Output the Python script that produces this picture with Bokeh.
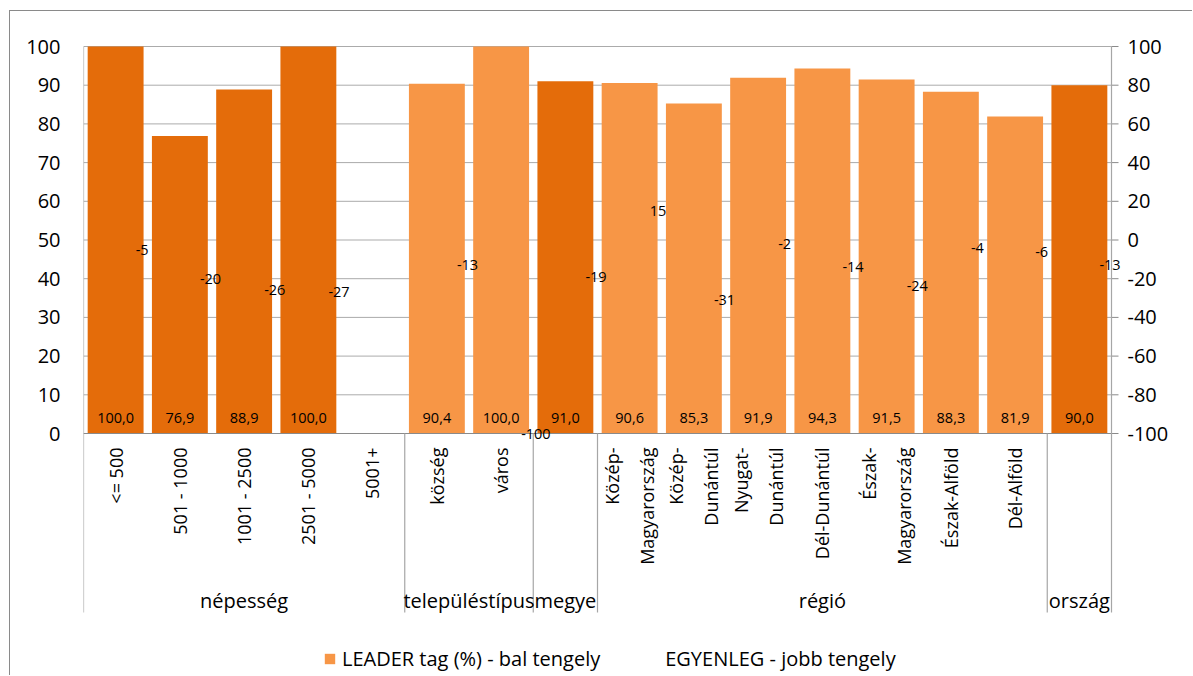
import numpy as np
from bokeh.plotting import figure
from bokeh.models import (Range1d, FixedTicker, ColumnDataSource,
                          Legend, LegendItem)
from bokeh.core.properties import value
from bokeh.embed import file_html
from bokeh.resources import INLINE

# ---------------- data ----------------
groups = ["népesség", "településtípus", "megye", "régió", "ország"]
group_sizes = [5, 2, 1, 7, 1]
categories = ["<= 500", "501 - 1000", "1001 - 2500", "2501 - 5000", "5001+",
              "község", "város",
              "",
              "Közép-\nMagyarország", "Közép-\nDunántúl", "Nyugat-\nDunántúl",
              "Dél-Dunántúl", "Észak-\nMagyarország", "Észak-Alföld", "Dél-Alföld",
              ""]
leader = [100.0, 76.9, 88.9, 100.0, np.nan,
          90.4, 100.0,
          91.0,
          90.6, 85.3, 91.9, 94.3, 91.5, 88.3, 81.9,
          90.0]
egyenleg = [-5, -20, -26, -27, np.nan,
            -13, -100,
            -19,
            15, -31, -2, -14, -24, -4, -6,
            -13]
left_ticks = list(range(0, 101, 10))
right_ticks = list(range(-100, 101, 20))

DARK = "#E46C0A"
LIGHT = "#F79646"
group_colors = {"népesség": DARK, "településtípus": LIGHT, "megye": DARK,
                "régió": LIGHT, "ország": DARK}

# ---------------- geometry (page px) ----------------
MARGIN_X, MARGIN_Y = 9, 10          # outer frame border position
PAGE_X0, PAGE_Y0 = MARGIN_X + 1, MARGIN_Y + 1   # canvas origin
FIG_W, FIG_H = 1193 - PAGE_X0, 676 - PAGE_Y0
PLOT_L, PLOT_R = 83, 1111           # category area
FRAME_R = 1193
FRAME_T, FRAME_B = 28, 676
TOP_PX, ZERO_PX = 46, 433
n = len(categories)
SLOT = (PLOT_R - PLOT_L) / n
PPU_L = (ZERO_PX - TOP_PX) / 100.0          # px per left unit
PPU_R = (ZERO_PX - TOP_PX) / 200.0          # px per right unit

def ly(px):
    return (ZERO_PX - px) / PPU_L

def ry(px):
    return -100 + (ZERO_PX - px) / PPU_R

xs = np.arange(n) + 0.5
grp_of = []
for g, s in zip(groups, group_sizes):
    grp_of += [g] * s
colors = [group_colors[g] for g in grp_of]

FONT = value("Open Sans")

p = figure(width=FIG_W, height=FIG_H, output_backend="svg", toolbar_location=None,
           x_range=Range1d(0, (FRAME_R - PLOT_L) / SLOT),
           y_range=Range1d(ly(FRAME_B), ly(FRAME_T)),
           min_border_left=PLOT_L - PAGE_X0, min_border_right=0,
           min_border_top=FRAME_T - PAGE_Y0, min_border_bottom=0,
           tools="")
p.extra_y_ranges = {"right": Range1d(ry(FRAME_B), ry(FRAME_T))}
p.outline_line_color = None
p.background_fill_color = "white"
p.border_fill_color = "white"
p.styles = {"margin-left": f"{MARGIN_X}px", "margin-top": f"{MARGIN_Y}px",
            "border-left": "1px solid #8a8a8a", "border-top": "1px solid #8a8a8a"}

p.xaxis.visible = False
p.xgrid.visible = False
p.ygrid.visible = False

# left axis
ya = p.yaxis[0]
ya.ticker = FixedTicker(ticks=left_ticks)
ya.axis_line_color = None
ya.major_tick_line_color = None
ya.minor_tick_line_color = None
ya.major_label_text_font = "Open Sans"
ya.major_label_text_font_size = "20px"
ya.major_label_text_color = "black"
ya.major_label_standoff = 17

# horizontal gridlines over the category area
p.segment(x0=[0] * len(left_ticks), y0=left_ticks, x1=[n] * len(left_ticks),
          y1=left_ticks, line_color="#ababab", line_width=1)

# right axis (ticks + labels drawn on the right scale)
p.segment(x0=[n] * len(right_ticks), y0=right_ticks,
          x1=[n + 7 / SLOT] * len(right_ticks), y1=right_ticks,
          y_range_name="right", line_color="#8a8a8a", line_width=1)
p.text(x=[n] * len(right_ticks), y=right_ticks, text=[str(t) for t in right_ticks],
       y_range_name="right", x_offset=16, text_align="left", text_baseline="middle",
       text_font=FONT, text_font_size="20px", text_color="black")

# bars
src = ColumnDataSource(dict(x=xs, top=leader, color=colors,
                            lab=[("" if np.isnan(v) else f"{v:.1f}".replace(".", ",")) for v in leader]))
bars = p.vbar(x="x", top="top", bottom=0, width=0.87, fill_color="color",
              line_color=None, source=src)

# category zero line
p.segment(x0=[0], y0=[0], x1=[n], y1=[0], line_color="#8a8a8a", line_width=1)

# outer vertical lines (axis lines) and group separators
bounds = np.cumsum([0] + group_sizes)
top_y = [100 if b in (0, n) else 0 for b in bounds]
p.segment(x0=bounds, y0=top_y, x1=bounds, y1=[ly(612)] * len(bounds),
          line_color="#a6a6a6", line_width=1.2)

# bar value labels
p.text(x="x", y=ly(417), text="lab", source=src, text_align="center",
       text_baseline="middle", text_font=FONT, text_font_size="14.5px",
       text_color="black")

# egyenleg labels (series itself invisible)
eg_src = ColumnDataSource(dict(x=[x for x, v in zip(xs, egyenleg) if not np.isnan(v)],
                               y=[v for v in egyenleg if not np.isnan(v)],
                               lab=[str(int(v)) for v in egyenleg if not np.isnan(v)]))
eg = p.scatter(x="x", y="y", source=eg_src, y_range_name="right", size=1,
               fill_alpha=0, line_alpha=0)
p.text(x="x", y="y", text="lab", source=eg_src, y_range_name="right",
       x_offset=20, text_align="left", text_baseline="middle",
       text_font=FONT, text_font_size="14.5px", text_color="black")

# category labels (vertical)
p.text(x=xs, y=[ly(447)] * n, text=categories, angle=np.pi / 2,
       text_align="right", text_baseline="middle", text_font=FONT,
       text_font_size="18px", text_color="black", text_line_height=1.45)

# group labels
gx = [(bounds[i] + bounds[i + 1]) / 2 for i in range(len(groups))]
p.text(x=gx, y=[ly(600)] * len(groups), text=groups, text_align="center",
       text_baseline="middle", text_font=FONT, text_font_size="20px",
       text_color="black")

# legend
legend = Legend(items=[LegendItem(label="LEADER tag (%) - bal tengely", renderers=[bars], index=5),
                       LegendItem(label="EGYENLEG - jobb tengely", renderers=[eg])],
                orientation="horizontal", location=(240, 4),
                padding=0, margin=0, spacing=46, glyph_width=13, glyph_height=13,
                label_standoff=6, label_text_font="Open Sans",
                label_text_font_size="20px", label_text_color="black",
                border_line_color=None, background_fill_alpha=0)
p.add_layout(legend)

open("out.html", "w").write(file_html(p, INLINE))
